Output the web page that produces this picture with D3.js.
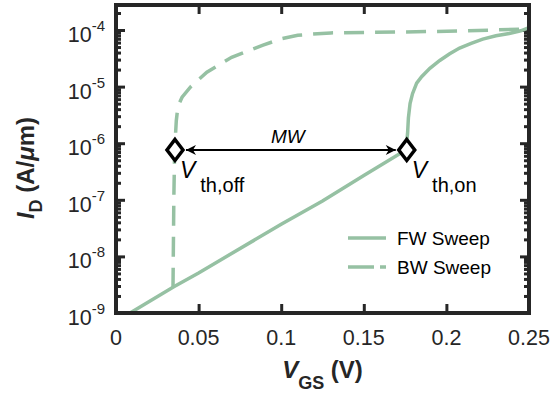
<!DOCTYPE html>
<html>
<head>
<meta charset="utf-8">
<script src="https://cdn.jsdelivr.net/npm/d3@7"></script>
<style>
  body { margin: 0; background: #fff; }
  text { font-family: "Liberation Sans", Arial, sans-serif; fill: #262626; }
</style>
</head>
<body>
<div id="chart"></div>
<script>
var svgWidth = 554;
var svgHeight = 399;

var margin = { top: 5, right: 25, bottom: 86, left: 116 };
var width = svgWidth - margin.left - margin.right;
var height = svgHeight - margin.top - margin.bottom;

// forward sweep (solid)
var fwV = [0.0085, 0.035, 0.05, 0.1, 0.125, 0.15, 0.1755, 0.1765, 0.177, 0.178, 0.1795, 0.182,
  0.185, 0.19, 0.196, 0.202, 0.208, 0.215, 0.222, 0.23, 0.238, 0.245, 0.25];
var fwI = [1e-9, 2.9e-9, 5.1e-9, 3.7e-8, 9.5e-8, 2.7e-7, 7.6e-7, 1.5e-6, 2.8e-6, 5e-6, 7.5e-6, 1.15e-5,
  1.5e-5, 2.1e-5, 2.9e-5, 3.8e-5, 4.8e-5, 5.8e-5, 6.9e-5, 7.9e-5, 8.7e-5, 9.7e-5, 1.1e-4];

// backward sweep (dashed)
var bwV = [0.0345, 0.035, 0.0355, 0.0365, 0.0375, 0.04, 0.045, 0.055, 0.07, 0.089, 0.1, 0.11,
  0.13, 0.17, 0.21, 0.25];
var bwI = [2.8e-9, 1e-7, 7.6e-7, 2.5e-6, 4.5e-6, 6.5e-6, 9.8e-6, 1.8e-5, 3.3e-5, 5.4e-5, 7e-5, 8.1e-5,
  8.9e-5, 9.2e-5, 9.6e-5, 1.05e-4];

// threshold markers
var vthV = [0.0357, 0.176];
var vthI = [7.6e-7, 7.6e-7];
var vthNames = ["th,off", "th,on"];

var xTicks = [0, 0.05, 0.1, 0.15, 0.2, 0.25];
var xTickLabels = ["0", "0.05", "0.1", "0.15", "0.2", "0.25"];
var yExp = [-9, -8, -7, -6, -5, -4];

var legendNames = ["FW Sweep", "BW Sweep"];

var green = "#96c1a3";
var axisColor = "#262626";

var svg = d3.select("#chart")
  .append("svg")
  .attr("width", svgWidth)
  .attr("height", svgHeight);

var chartGroup = svg.append("g")
  .attr("transform", `translate(${margin.left}, ${margin.top})`);

var x = d3.scaleLinear().domain([0, 0.25]).range([0, width]);
var y = d3.scaleLog().domain([1e-9, Math.pow(10, -3.558)]).range([height, 0]);

var yMajor = yExp.map(e => Math.pow(10, e));
var yMinor = [];
yExp.forEach(function(e) {
  for (var k = 2; k <= 9; k++) {
    var v = k * Math.pow(10, e);
    if (v < y.domain()[1]) yMinor.push(v);
  }
});

// ticks (inward, mirrored)
function styleAxis(g) {
  g.select(".domain").remove();
  g.selectAll(".tick line").attr("stroke", axisColor).attr("stroke-width", 3);
  g.selectAll(".tick text").remove();
}
chartGroup.append("g").attr("transform", `translate(0, ${height})`)
  .call(d3.axisBottom(x).tickValues(xTicks).tickSize(-9)).call(styleAxis);
chartGroup.append("g")
  .call(d3.axisTop(x).tickValues(xTicks).tickSize(-9)).call(styleAxis);
chartGroup.append("g")
  .call(d3.axisLeft(y).tickValues(yMajor).tickSize(-9)).call(styleAxis);
chartGroup.append("g")
  .call(d3.axisLeft(y).tickValues(yMinor).tickSize(-5)).call(styleAxis);
chartGroup.append("g").attr("transform", `translate(${width}, 0)`)
  .call(d3.axisRight(y).tickValues(yMajor).tickSize(-9)).call(styleAxis);
chartGroup.append("g").attr("transform", `translate(${width}, 0)`)
  .call(d3.axisRight(y).tickValues(yMinor).tickSize(-5)).call(styleAxis);

// tick labels
chartGroup.selectAll(".xlab")
  .data(xTicks)
  .enter()
  .append("text")
  .attr("x", d => x(d))
  .attr("y", height + 32)
  .attr("text-anchor", "middle")
  .attr("font-size", "21.5px")
  .text((d, i) => xTickLabels[i]);

var yLab = chartGroup.selectAll(".ylab")
  .data(yExp)
  .enter()
  .append("text")
  .attr("x", -11)
  .attr("y", d => y(Math.pow(10, d)) + 12)
  .attr("text-anchor", "end")
  .attr("font-size", "21.5px");
yLab.append("tspan").text("10");
yLab.append("tspan").attr("dy", -11).attr("font-size", "15px").text(d => "-" + Math.abs(d));

// curves
var line = d3.line()
  .x(d => x(d[0]))
  .y(d => y(d[1]));

chartGroup.append("path")
  .datum(bwV.map((v, i) => [v, bwI[i]]))
  .attr("d", line)
  .attr("fill", "none")
  .attr("stroke", green)
  .attr("stroke-width", 3.5)
  .attr("stroke-dasharray", "20,11");

chartGroup.append("path")
  .datum(fwV.map((v, i) => [v, fwI[i]]))
  .attr("d", line)
  .attr("fill", "none")
  .attr("stroke", green)
  .attr("stroke-width", 3.5);

// box
chartGroup.append("rect")
  .attr("width", width)
  .attr("height", height)
  .attr("fill", "none")
  .attr("stroke", axisColor)
  .attr("stroke-width", 4);

// MW arrow
svg.append("defs").append("marker")
  .attr("id", "head")
  .attr("viewBox", "0 0 10 10")
  .attr("refX", 10)
  .attr("refY", 5)
  .attr("markerWidth", 11)
  .attr("markerHeight", 10)
  .attr("markerUnits", "userSpaceOnUse")
  .attr("orient", "auto-start-reverse")
  .append("path")
  .attr("d", "M0,0 L10,5 L0,10 L3,5 Z")
  .attr("fill", "#000");

chartGroup.append("line")
  .attr("x1", x(vthV[0]) + 11)
  .attr("x2", x(vthV[1]) - 11)
  .attr("y1", y(vthI[0]))
  .attr("y2", y(vthI[1]))
  .attr("stroke", "#000")
  .attr("stroke-width", 2)
  .attr("marker-start", "url(#head)")
  .attr("marker-end", "url(#head)");

chartGroup.append("text")
  .attr("x", (x(vthV[0]) + x(vthV[1])) / 2 - 3)
  .attr("y", y(vthI[0]) - 7)
  .attr("text-anchor", "middle")
  .attr("font-size", "19px")
  .attr("font-style", "italic")
  .style("fill", "#000")
  .text("MW");

// diamonds
chartGroup.selectAll(".vth")
  .data(vthV)
  .enter()
  .append("path")
  .attr("d", d => {
    var cx = x(d), cy = y(vthI[0]);
    return `M${cx},${cy - 10.5} L${cx + 8},${cy} L${cx},${cy + 10.5} L${cx - 8},${cy} Z`;
  })
  .attr("fill", "#fff")
  .attr("stroke", "#000")
  .attr("stroke-width", 3.5)
  .attr("stroke-linejoin", "miter");

var vLab = chartGroup.selectAll(".vthlab")
  .data(vthV)
  .enter()
  .append("text")
  .attr("x", d => x(d) + 5)
  .attr("y", y(vthI[0]) + 28)
  .attr("font-size", "23px")
  .style("fill", "#000");
vLab.append("tspan").attr("font-style", "italic").text("V");
vLab.append("tspan").attr("dy", 14).attr("dx", 5).attr("font-size", "20px").text((d, i) => vthNames[i]);

// legend
var legend = chartGroup.append("g")
  .attr("transform", `translate(${348 - margin.left}, ${238 - margin.top})`);
legendNames.forEach(function(name, i) {
  legend.append("line")
    .attr("x1", 0).attr("x2", 38)
    .attr("y1", i * 29).attr("y2", i * 29)
    .attr("stroke", green)
    .attr("stroke-width", 3.5)
    .attr("stroke-dasharray", i === 1 ? "26,6" : null);
  legend.append("text")
    .attr("x", 49)
    .attr("y", i * 29 + 7)
    .attr("font-size", "19px")
    .style("fill", "#000")
    .text(name);
});

// axis labels
var xTitle = chartGroup.append("text")
  .attr("transform", `translate(${width / 2}, ${height + 65})`)
  .attr("text-anchor", "middle")
  .attr("font-size", "24px")
  .attr("font-weight", "bold");
xTitle.append("tspan").attr("font-style", "italic").text("V");
xTitle.append("tspan").attr("dy", 11).attr("font-size", "18px").text("GS");
xTitle.append("tspan").attr("dy", -11).text(" (V)");

var yTitle = svg.append("text")
  .attr("transform", "translate(34, 168) rotate(-90)")
  .attr("text-anchor", "middle")
  .attr("font-size", "24px")
  .attr("font-weight", "bold");
yTitle.append("tspan").attr("font-style", "italic").text("I");
yTitle.append("tspan").attr("dy", 8).attr("font-size", "18px").text("D");
yTitle.append("tspan").attr("dy", -8).text(" (A/");
yTitle.append("tspan").attr("font-style", "italic").text("μ");
yTitle.append("tspan").text("m)");
</script>
</body>
</html>
